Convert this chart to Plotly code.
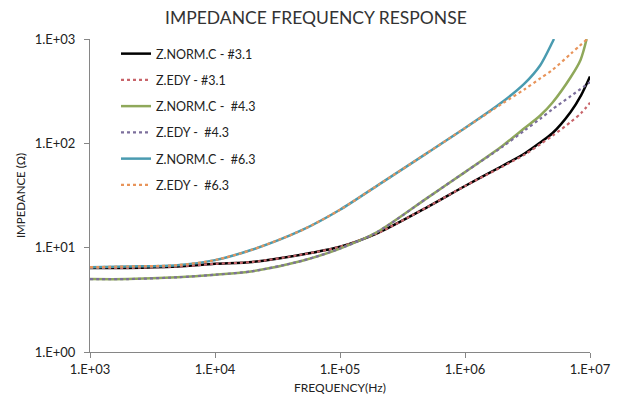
import plotly.graph_objects as go

# ---- data ----
f_31 = [1e3, 2e3, 5e3, 1e4, 2e4, 5e4, 1e5, 2e5, 5e5, 1e6, 2e6, 3e6, 4e6, 5e6, 7e6, 8.5e6, 1e7]
z_norm_31 = [6.4, 6.4, 6.6, 7.0, 7.3, 8.6, 10.2, 13.8, 24.5, 39, 61, 80, 102, 125, 200, 290, 437]
z_edy_31 = [6.4, 6.4, 6.6, 7.0, 7.3, 8.6, 10.2, 13.8, 24.5, 39, 60, 78, 98, 118, 160, 195, 245]

f_43_norm = [1e3, 2e3, 5e3, 1e4, 2e4, 5e4, 1e5, 2e5, 5e5, 1e6, 2e6, 3e6, 4e6, 5e6, 7e6, 8.4e6, 9.4e6]
z_norm_43 = [5.0, 5.0, 5.2, 5.5, 5.95, 7.5, 9.8, 14.2, 30, 53, 95, 140, 185, 245, 430, 630, 1000]
f_43_edy = [1e3, 2e3, 5e3, 1e4, 2e4, 5e4, 1e5, 2e5, 5e5, 1e6, 2e6, 3e6, 4e6, 5e6, 7e6, 1e7]
z_edy_43 = [5.0, 5.0, 5.2, 5.5, 5.95, 7.5, 9.8, 14.2, 30, 53, 93, 133, 172, 212, 283, 385]

f_63_norm = [1e3, 2e3, 5e3, 1e4, 2e4, 5e4, 1e5, 2e5, 5e5, 1e6, 2e6, 3e6, 4e6, 5e6, 5.15e6]
z_norm_63 = [6.5, 6.6, 6.8, 7.6, 9.6, 14.8, 23.1, 39.5, 81, 140, 250, 375, 560, 930, 1000]
f_63_edy = [1e3, 2e3, 5e3, 1e4, 2e4, 5e4, 1e5, 2e5, 5e5, 1e6, 2e6, 3e6, 4e6, 5e6, 7e6, 9.5e6]
z_edy_63 = [6.5, 6.6, 6.8, 7.6, 9.6, 14.8, 23.1, 39.5, 81, 140, 242, 330, 420, 505, 720, 1000]

x_ticks = [1e3, 1e4, 1e5, 1e6, 1e7]
x_tick_labels = ["1.E+03", "1.E+04", "1.E+05", "1.E+06", "1.E+07"]
y_ticks = [1, 10, 100, 1000]
y_tick_labels = ["1.E+00", "1.E+01", "1.E+02", "1.E+03"]

series = [
    ("Z.NORM.C - #3.1", f_31, z_norm_31, "#000000", "solid", 2.5),
    ("Z.EDY - #3.1", f_31, z_edy_31, "#C8646A", "dot", 2.2),
    ("Z.NORM.C -  #4.3", f_43_norm, z_norm_43, "#8FA85A", "solid", 2.5),
    ("Z.EDY -  #4.3", f_43_edy, z_edy_43, "#7C6F9C", "dot", 2.2),
    ("Z.NORM.C -  #6.3", f_63_norm, z_norm_63, "#4A9BB0", "solid", 2.5),
    ("Z.EDY -  #6.3", f_63_edy, z_edy_63, "#E8945A", "dot", 2.2),
]

FONT = "Lato"
fig = go.Figure()
for i, (name, fx, zy, color, dash, w) in enumerate(series):
    fig.add_trace(go.Scatter(
        x=fx, y=zy, name=name, mode="lines",
        line=dict(color=color, dash=dash, width=w, shape="spline", smoothing=0.8),
        legendgroup=f"g{i}",
    ))

fig.update_layout(
    width=622, height=406,
    margin=dict(l=90, r=32, t=39, b=54),
    paper_bgcolor="white", plot_bgcolor="white",
    font=dict(family=FONT, size=13, color="#222222"),
    title=dict(text="IMPEDANCE FREQUENCY RESPONSE", x=0.508, xref="container",
               y=0.955, yref="container", xanchor="center", yanchor="middle",
               font=dict(family=FONT, size=17.5, color="#333333")),
    showlegend=True,
    legend=dict(x=0.052, y=1.0, xanchor="left", yanchor="top",
                bgcolor="rgba(255,255,255,0)", tracegroupgap=7,
                font=dict(family=FONT, size=12.5, color="#222222")),
    xaxis=dict(type="log", range=[3, 7], tickvals=x_ticks, ticktext=x_tick_labels,
               showgrid=False, zeroline=False, showline=True, linecolor="#868686",
               linewidth=1, ticks="outside", ticklen=5, tickcolor="#868686",
               automargin=False,
               title=dict(text="FREQUENCY(Hz)", font=dict(size=12), standoff=8)),
    yaxis=dict(type="log", range=[0, 3], tickvals=y_ticks, ticktext=y_tick_labels,
               showgrid=False, zeroline=False, showline=True, linecolor="#868686",
               linewidth=1, ticks="outside", ticklen=5, tickcolor="#868686",
               ticklabelstandoff=6, automargin=False,
               title=dict(text="IMPEDANCE (Ω)", font=dict(size=11.5), standoff=6)),
)

fig.write_html("out.html", config={"displayModeBar": False},
               post_script="document.body.style.margin='0';")
